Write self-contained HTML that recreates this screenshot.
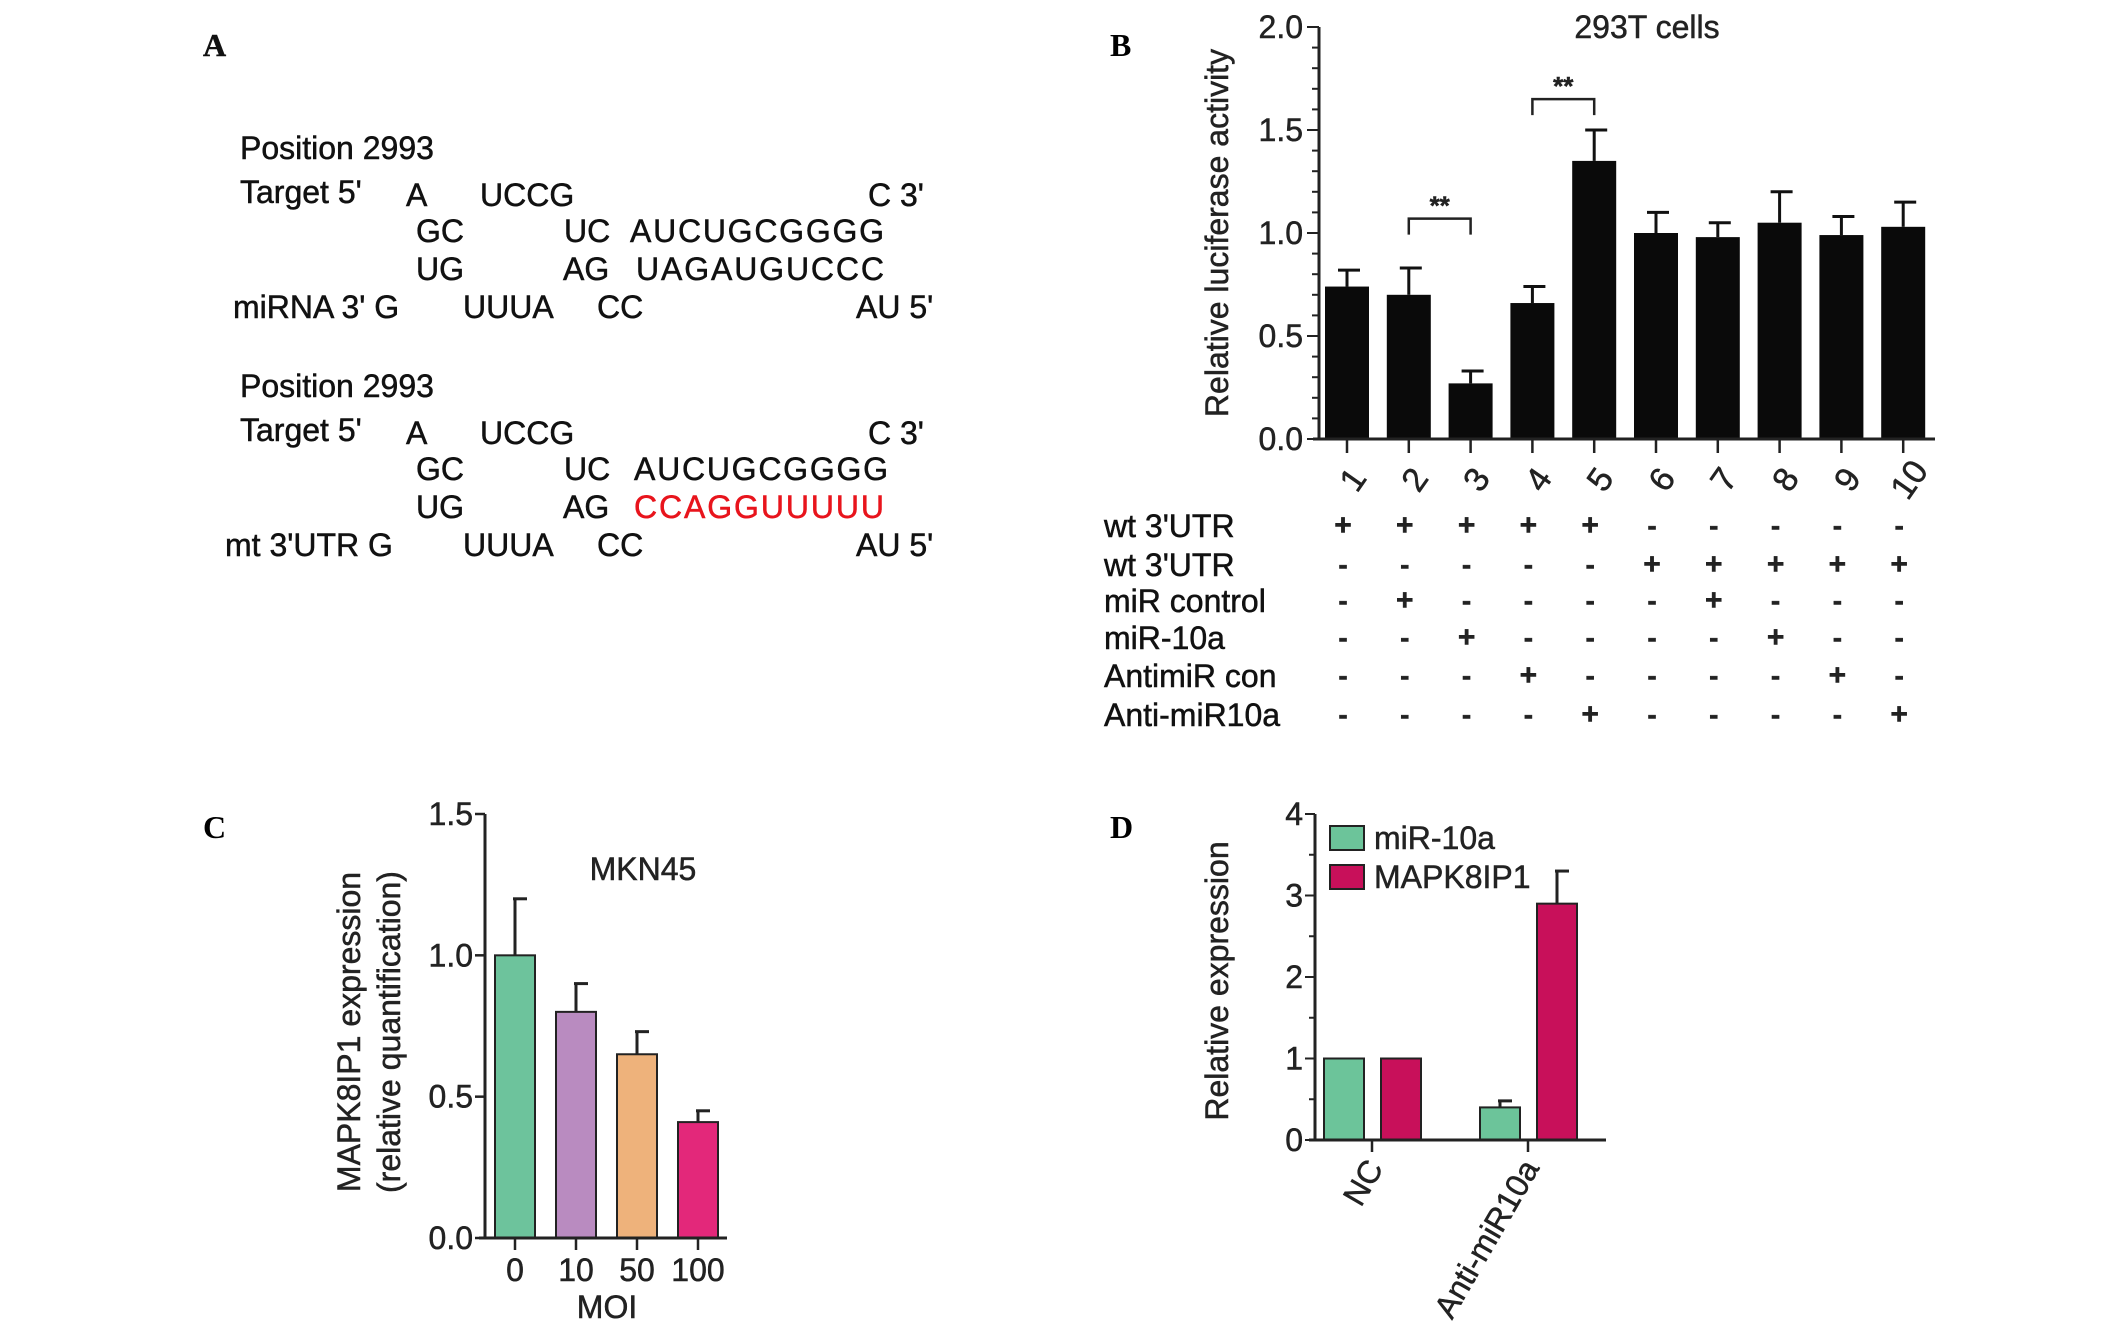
<!DOCTYPE html>
<html><head><meta charset="utf-8"><style>
html,body{margin:0;padding:0;background:#fff;}
svg{display:block;font-family:"Liberation Sans",Arial,sans-serif;}
</style></head><body>
<svg id="fig" width="2126" height="1331" viewBox="0 0 2126 1331" xmlns="http://www.w3.org/2000/svg">
<g font-size="32" fill="#111" stroke="#111" stroke-width="0.5">
<text x="203" y="56" font-family="Liberation Serif,serif" font-weight="bold" font-size="32">A</text>
<text x="240" y="159">Position 2993</text>
<text x="240" y="203">Target 5'</text>
<text x="406" y="206">A</text><text x="480" y="206">UCCG</text><text x="868" y="206">C 3'</text>
<text x="416" y="242">GC</text><text x="564" y="242">UC</text><text x="630" y="242" textLength="254">AUCUGCGGGG</text>
<text x="416" y="280">UG</text><text x="563" y="280">AG</text><text x="636" y="280" textLength="248">UAGAUGUCCC</text>
<text x="233" y="318">miRNA 3' G</text><text x="463" y="318">UUUA</text><text x="597" y="318">CC</text><text x="856" y="318">AU 5'</text>
<text x="240" y="397">Position 2993</text>
<text x="240" y="441">Target 5'</text>
<text x="406" y="444">A</text><text x="480" y="444">UCCG</text><text x="868" y="444">C 3'</text>
<text x="416" y="480">GC</text><text x="564" y="480">UC</text><text x="634" y="480" textLength="254">AUCUGCGGGG</text>
<text x="416" y="518">UG</text><text x="563" y="518">AG</text><text x="634" y="518" textLength="250" fill="#e8141c" stroke="#e8141c">CCAGGUUUUU</text>
<text x="225" y="556">mt 3'UTR G</text><text x="463" y="556">UUUA</text><text x="597" y="556">CC</text><text x="856" y="556">AU 5'</text>
</g>
<text x="1110" y="56" font-family="Liberation Serif,serif" font-weight="bold" font-size="32">B</text>
<text x="203" y="838" font-family="Liberation Serif,serif" font-weight="bold" font-size="32">C</text>
<text x="1110" y="838" font-family="Liberation Serif,serif" font-weight="bold" font-size="32">D</text>
<g id="gB"></g>
<g id="gC"></g>
<g id="gD"></g>
</svg>
<script>
const bCats=["1","2","3","4","5","6","7","8","9","10"];
const bVals=[0.74,0.70,0.27,0.66,1.35,1.00,0.98,1.05,0.99,1.03];
const bErr=[0.08,0.13,0.06,0.08,0.15,0.10,0.07,0.15,0.09,0.12];
const bTicks=[0,0.5,1.0,1.5,2.0];
const bRowLabels=["wt 3'UTR","wt 3'UTR","miR control","miR-10a","AntimiR con","Anti-miR10a"];
const bTable=["+++++-----","-----+++++","-+----+---","--+----+--","---+----+-","----+----+"];
const cCats=["0","10","50","100"];
const cVals=[1.0,0.8,0.65,0.41];
const cErr=[0.2,0.1,0.08,0.04];
const cTicks=[0,0.5,1.0,1.5];
const dCats=["NC","Anti-miR10a"];
const dMir=[1.0,0.4];
const dMapk=[1.0,2.9];
const dMirErr=[0,0.08];
const dMapkErr=[0,0.4];
const dTicks=[0,1,2,3,4];
const NS="http://www.w3.org/2000/svg";
function mk(p,t,a,txt){const e=document.createElementNS(NS,t);for(const k in a)e.setAttribute(k,a[k]);if(txt!==undefined){e.textContent=txt;e.setAttribute('stroke',a.fill||'#222');e.setAttribute('stroke-width',0.5);}p.appendChild(e);return e;}
// Panel B
(function(){
const g=document.getElementById('gB');
const x0=1319,x1=1935,y0=439,y1=27,max=2.0;
const Y=v=>y0-(v/max)*(y0-y1);
const X=i=>1347+i*61.8;
const ax=mk(g,'line',{x1:x0,y1:y0,x2:x0,y2:y1,stroke:'#222','stroke-width':3});

for(let v=0;v<=2.0001;v+=0.1){mk(g,'line',{x1:x0-(Math.round(v*10)%5==0?12:7),y1:Y(v),x2:x0,y2:Y(v),stroke:'#222','stroke-width':2});}
bTicks.forEach(v=>{const t=mk(g,'text',{x:x0-16,y:Y(v)+11,'text-anchor':'end','font-size':32,fill:'#222'},v.toFixed(1));});
const yl=mk(g,'text',{x:0,y:0,transform:`translate(1228,${(y0+y1)/2}) rotate(-90)`,'text-anchor':'middle','font-size':32,fill:'#222'},'Relative luciferase activity');

const tt=mk(g,'text',{x:1647,y:38,'text-anchor':'middle','font-size':32,fill:'#222'},'293T cells');

bVals.forEach((v,i)=>{const cx=X(i);
 const r=mk(g,'rect',{x:cx-22,y:Y(v),width:44,height:y0-Y(v),fill:'#0a0a0a'});
 
 mk(g,'line',{x1:cx,y1:Y(v),x2:cx,y2:Y(v+bErr[i]),stroke:'#111','stroke-width':3});
 mk(g,'line',{x1:cx-9,y1:Y(v+bErr[i]),x2:cx+13,y2:Y(v+bErr[i]),stroke:'#111','stroke-width':3});
 mk(g,'line',{x1:cx,y1:y0,x2:cx,y2:y0+14,stroke:'#222','stroke-width':2.5});
 const tl=mk(g,'text',{x:0,y:0,transform:`translate(${cx+8},${y0+42}) rotate(-55)`,'text-anchor':'middle','dominant-baseline':'middle','font-size':34,fill:'#222'},bCats[i]);
 
});
const xa=mk(g,'line',{x1:x0-6,y1:y0,x2:x1,y2:y0,stroke:'#222','stroke-width':3});

[[1,2,1.07],[3,4,1.65]].forEach(s=>{const a=X(s[0]),b=X(s[1]),y=Y(s[2]);
 const p=mk(g,'path',{d:`M${a},${y+16}V${y}H${b}V${y+16}`,fill:'none',stroke:'#222','stroke-width':2.5});
 
 mk(g,'text',{x:(a+b)/2,y:y-4,'text-anchor':'middle','font-size':26,fill:'#222','font-weight':'bold'},'**');
});
const rowY=[537,576,612,649,687,726];
bRowLabels.forEach((l,r)=>{const t=mk(g,'text',{x:1104,y:rowY[r],'font-size':32,fill:'#111'},l);
 
 for(let i=0;i<10;i++){const s=bTable[r][i];mk(g,'text',{x:X(i)-4,y:rowY[r]-2,'text-anchor':'middle','font-size':s=='+'?30:28,'font-weight':'bold',fill:'#222'},s);}
});
})();
// Panel C
(function(){
const g=document.getElementById('gC');
const x0=485,x1=727,y0=1238,y1=814,max=1.5;
const Y=v=>y0-(v/max)*(y0-y1);
const X=i=>515+i*61;
const colors=['#6dc39c','#b98bc0','#eeb27b','#e3287a'];
mk(g,'line',{x1:x0,y1:y0,x2:x0,y2:y1,stroke:'#222','stroke-width':3});
cTicks.forEach(v=>{mk(g,'line',{x1:x0-10,y1:Y(v),x2:x0,y2:Y(v),stroke:'#222','stroke-width':2.5});
 const t=mk(g,'text',{x:x0-12,y:Y(v)+11,'text-anchor':'end','font-size':32,fill:'#222'},v.toFixed(1));
 });
cVals.forEach((v,i)=>{const cx=X(i);
 mk(g,'line',{x1:cx,y1:Y(v),x2:cx,y2:Y(v+cErr[i]),stroke:'#222','stroke-width':3});
 mk(g,'line',{x1:cx-2,y1:Y(v+cErr[i]),x2:cx+12,y2:Y(v+cErr[i]),stroke:'#222','stroke-width':3});
 const r=mk(g,'rect',{x:cx-20,y:Y(v),width:40,height:y0-Y(v),fill:colors[i],stroke:'#222','stroke-width':2});
 
 mk(g,'line',{x1:cx,y1:y0,x2:cx,y2:y0+12,stroke:'#222','stroke-width':2.5});
 const t=mk(g,'text',{x:cx,y:y0+43,'text-anchor':'middle','font-size':32,fill:'#222'},cCats[i]);
 });
mk(g,'line',{x1:x0-6,y1:y0,x2:x1,y2:y0,stroke:'#222','stroke-width':3});
const m=mk(g,'text',{x:607,y:1318,'text-anchor':'middle','font-size':32,fill:'#222'},'MOI');

const tt=mk(g,'text',{x:643,y:880,'text-anchor':'middle','font-size':32,fill:'#222'},'MKN45');

const y1t=mk(g,'text',{x:0,y:0,transform:'translate(360,1032) rotate(-90)','text-anchor':'middle','font-size':32,fill:'#222'},'MAPK8IP1 expression');

const y2t=mk(g,'text',{x:0,y:0,transform:'translate(400,1032) rotate(-90)','text-anchor':'middle','font-size':32,fill:'#222'},'(relative quantification)');

})();
// Panel D
(function(){
const g=document.getElementById('gD');
const x0=1315,x1=1606,y0=1140,y1=814,max=4;
const Y=v=>y0-(v/max)*(y0-y1);
const G=[1372,1528];
mk(g,'line',{x1:x0,y1:y0,x2:x0,y2:y1,stroke:'#222','stroke-width':3});
for(let v=0;v<=4.001;v+=0.5){mk(g,'line',{x1:x0-(v%1==0?10:6),y1:Y(v),x2:x0,y2:Y(v),stroke:'#222','stroke-width':2});}
dTicks.forEach(v=>{const t=mk(g,'text',{x:x0-12,y:Y(v)+11,'text-anchor':'end','font-size':32,fill:'#222'},String(v));
 });
function bar(cx,v,e,col,name){
 if(e>0){mk(g,'line',{x1:cx,y1:Y(v),x2:cx,y2:Y(v+e),stroke:'#222','stroke-width':3});
 mk(g,'line',{x1:cx-2,y1:Y(v+e),x2:cx+12,y2:Y(v+e),stroke:'#222','stroke-width':3});}
 const r=mk(g,'rect',{x:cx-20,y:Y(v),width:40,height:y0-Y(v),fill:col,stroke:'#222','stroke-width':2});
 }
dCats.forEach((c,i)=>{bar(G[i]-28,dMir[i],dMirErr[i],'#6cc49a','bar-mir10a-'+i);bar(G[i]+29,dMapk[i],dMapkErr[i],'#c8105a','bar-mapk8ip1-'+i);
 mk(g,'line',{x1:G[i],y1:y0,x2:G[i],y2:y0+12,stroke:'#222','stroke-width':2.5});
 const t=mk(g,'text',{x:0,y:0,transform:`translate(${G[i]+12},${y0+28}) rotate(-60)`,'text-anchor':'end','font-size':32,fill:'#222'},c);
 });
mk(g,'line',{x1:x0-6,y1:y0,x2:x1,y2:y0,stroke:'#222','stroke-width':3});
const yl=mk(g,'text',{x:0,y:0,transform:'translate(1228,981) rotate(-90)','text-anchor':'middle','font-size':32,fill:'#222'},'Relative expression');

[['miR-10a','#6cc49a',838],['MAPK8IP1','#c8105a',877]].forEach(l=>{
 const r=mk(g,'rect',{x:1330,y:l[2]-12,width:34,height:24,fill:l[1],stroke:'#222','stroke-width':2});
 
 const t=mk(g,'text',{x:1374,y:l[2]+11,'font-size':32,fill:'#222'},l[0]);
 });
})();
</script>
</body></html>
